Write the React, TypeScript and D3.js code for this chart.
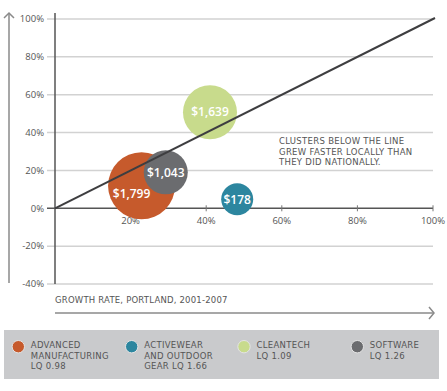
import * as d3 from "d3"
import { useEffect, useRef } from "react"

const width = 447
const height = 391
const margin = { top: 19, right: 14, bottom: 107, left: 55 }

const clusters = ["Advanced Manufacturing", "Activewear and Outdoor Gear", "Cleantech", "Software"]
const localGrowth = [22.9, 48.2, 41, 29.3]
const growthGap = [11.9, 4.8, 50.7, 19]
const wageLabels = ["$1,799", "$178", "$1,639", "$1,043"]
const bubbleSize = [1122, 256, 729, 484]
const colors = ["#c65a2c", "#2c869f", "#c8db8c", "#6b6c6f"]
const legendLines = [
  ["ADVANCED", "MANUFACTURING", "LQ 0.98"],
  ["ACTIVEWEAR", "AND OUTDOOR", "GEAR LQ 1.66"],
  ["CLEANTECH", "LQ 1.09"],
  ["SOFTWARE", "LQ 1.26"],
]
const xTicks = [20, 40, 60, 80, 100]
const yTicks = [-40, -20, 0, 20, 40, 60, 80, 100]
const note = ["CLUSTERS BELOW THE LINE", "GREW FASTER LOCALLY THAN", "THEY DID NATIONALLY."]
const xTitle = "GROWTH RATE, PORTLAND, 2001-2007"

const FONT = "'Open Sans', sans-serif"
const CAPS = "'DejaVu Sans', sans-serif"
const TEXT = "#555"

export default function App() {
  const svgRef = useRef<SVGSVGElement | null>(null)

  useEffect(() => {
    if (!svgRef.current) return
    const svg = d3.select(svgRef.current)
    svg.selectAll("*").remove()

    const x = d3.scaleLinear().domain([0, 100]).range([margin.left, width - margin.right])
    const y = d3.scaleLinear().domain([-40, 100]).range([height - margin.bottom, margin.top])
    const r = d3.scaleSqrt().domain([0, d3.max(bubbleSize)!]).range([0, 33.5])

    // grid lines
    svg
      .append("g")
      .selectAll("line")
      .data(yTicks.filter((d) => d !== 0))
      .enter()
      .append("line")
      .attr("x1", 47)
      .attr("x2", x(100))
      .attr("y1", (d) => y(d))
      .attr("y2", (d) => y(d))
      .attr("stroke", "#d2d2d2")
      .attr("stroke-width", 1.5)

    // y tick labels
    svg
      .append("g")
      .selectAll("text")
      .data(yTicks)
      .enter()
      .append("text")
      .attr("x", 44)
      .attr("y", (d) => y(d))
      .attr("dy", "0.35em")
      .attr("text-anchor", "end")
      .style("font-family", FONT)
      .style("font-size", "9.5px")
      .style("fill", TEXT)
      .text((d) => `${d}%`)

    // x axis at 0
    svg
      .append("line")
      .attr("x1", 47)
      .attr("x2", x(100))
      .attr("y1", y(0))
      .attr("y2", y(0))
      .attr("stroke", "#555")
      .attr("stroke-width", 1.5)

    svg
      .append("g")
      .selectAll("line")
      .data(xTicks)
      .enter()
      .append("line")
      .attr("x1", (d) => x(d))
      .attr("x2", (d) => x(d))
      .attr("y1", y(0) - 3)
      .attr("y2", y(0) + 3)
      .attr("stroke", "#777")
      .attr("stroke-width", 1)

    svg
      .append("g")
      .selectAll("text")
      .data(xTicks)
      .enter()
      .append("text")
      .attr("x", (d) => x(d))
      .attr("y", y(0) + 16)
      .attr("text-anchor", "middle")
      .style("font-family", FONT)
      .style("font-size", "9.5px")
      .style("fill", TEXT)
      .text((d) => `${d}%`)

    // y axis
    svg
      .append("line")
      .attr("x1", x(0))
      .attr("x2", x(0))
      .attr("y1", 13)
      .attr("y2", y(-40))
      .attr("stroke", "#555")
      .attr("stroke-width", 1.5)

    // bubbles
    const order = [0, 1, 2, 3]
    svg
      .append("g")
      .selectAll("circle")
      .data(order)
      .enter()
      .append("circle")
      .attr("cx", (i) => x(localGrowth[i]))
      .attr("cy", (i) => y(growthGap[i]))
      .attr("r", (i) => r(bubbleSize[i]))
      .attr("fill", (i) => colors[i])

    // diagonal parity line
    svg
      .append("line")
      .attr("x1", x(0))
      .attr("y1", y(0))
      .attr("x2", x(100) + 2)
      .attr("y2", y(100) - 1)
      .attr("stroke", "#3e3e40")
      .attr("stroke-width", 2)

    // bubble labels
    const labelShift = [
      [-10, 8],
      [0, 0],
      [0, -1],
      [0, 0],
    ]
    svg
      .append("g")
      .selectAll("text")
      .data(order)
      .enter()
      .append("text")
      .attr("x", (i) => x(localGrowth[i]) + labelShift[i][0])
      .attr("y", (i) => y(growthGap[i]) + labelShift[i][1])
      .attr("dy", "0.36em")
      .attr("text-anchor", "middle")
      .style("font-family", FONT)
      .style("font-size", "12px")
      .style("font-weight", "600")
      .style("fill", "#fff")
      .text((i) => wageLabels[i])

    // annotation, one text per line
    svg
      .append("g")
      .selectAll("text")
      .data(note)
      .enter()
      .append("text")
      .attr("x", 279)
      .attr("y", (d, i) => 141 + i * 10.6)
      .attr("dy", "0.36em")
      .style("font-family", CAPS)
      .style("font-size", "8.5px")
      .style("letter-spacing", "0.3px")
      .style("fill", TEXT)
      .text((d) => d)

    // vertical arrow
    const arrowColor = "#8a8a8a"
    svg
      .append("line")
      .attr("x1", 9)
      .attr("x2", 9)
      .attr("y1", 13)
      .attr("y2", 283)
      .attr("stroke", arrowColor)
      .attr("stroke-width", 1.5)
    svg
      .append("path")
      .attr("d", "M4,18 L9,13 L14,18")
      .attr("fill", "none")
      .attr("stroke", arrowColor)
      .attr("stroke-width", 1.5)

    // x title + horizontal arrow
    svg
      .append("text")
      .attr("x", x(0))
      .attr("y", 300)
      .attr("dy", "0.36em")
      .style("font-family", CAPS)
      .style("font-size", "8.5px")
      .style("letter-spacing", "0.2px")
      .style("fill", TEXT)
      .text(xTitle)
    svg
      .append("line")
      .attr("x1", x(0))
      .attr("x2", 434)
      .attr("y1", 313)
      .attr("y2", 313)
      .attr("stroke", arrowColor)
      .attr("stroke-width", 1.5)
    svg
      .append("path")
      .attr("d", "M429,307 L434,313 L429,319")
      .attr("fill", "none")
      .attr("stroke", arrowColor)
      .attr("stroke-width", 1.5)

    // legend
    svg
      .append("rect")
      .attr("x", 4)
      .attr("y", 330)
      .attr("width", 435)
      .attr("height", 49)
      .attr("fill", "#c9cacc")

    const legendX = [18.3, 131.7, 244, 357.3]
    const items = svg
      .append("g")
      .selectAll("g")
      .data(clusters)
      .enter()
      .append("g")
      .attr("transform", (d, i) => `translate(${legendX[i]},346.7)`)

    items
      .append("circle")
      .attr("r", 6.2)
      .attr("fill", (d, i) => colors[i])
      .attr("stroke", "#e4e4e4")
      .attr("stroke-width", 1)

    items
      .selectAll("text")
      .data((d, i) => legendLines[i])
      .enter()
      .append("text")
      .attr("x", 12.5)
      .attr("y", (d, j) => -1.7 + j * 10.5)
      .attr("dy", "0.36em")
      .style("font-family", CAPS)
      .style("font-size", "8.5px")
      .style("letter-spacing", "0.3px")
      .style("fill", TEXT)
      .text((d) => d)
  }, [])

  return (
    <svg
      ref={svgRef}
      width={width}
      height={height}
      style={{ position: "absolute", left: 0, top: 0, background: "#fff" }}
      xmlns="http://www.w3.org/2000/svg"
    />
  )
}
